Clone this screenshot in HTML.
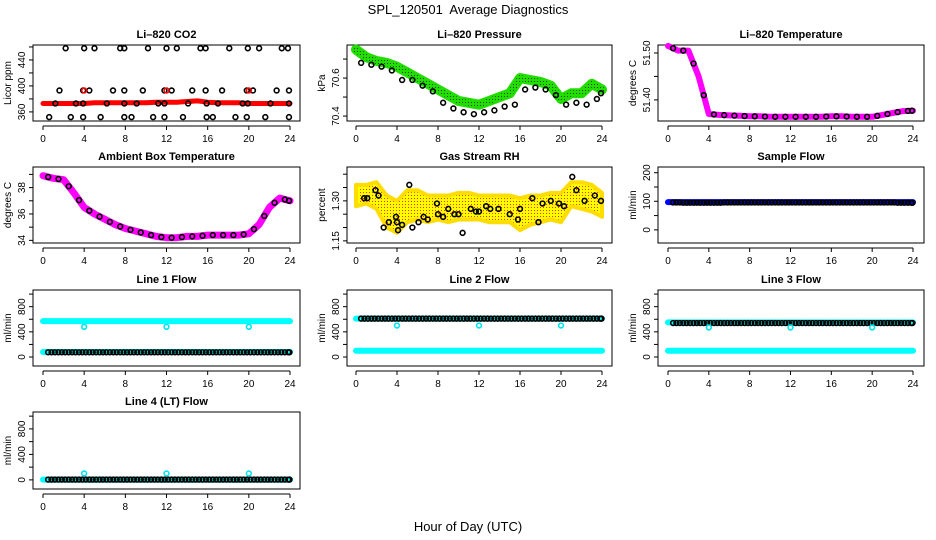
<!DOCTYPE html>
<html><head><meta charset="utf-8">
<style>
html,body{margin:0;padding:0;background:#fff;}
svg{display:block;font-family:"Liberation Sans",Arial,sans-serif;}
</style></head>
<body>
<svg id="c" width="936" height="540" viewBox="0 0 936 540" xmlns="http://www.w3.org/2000/svg">
<defs>
<pattern id="stip" width="3" height="3" patternUnits="userSpaceOnUse"><rect width="3" height="3" fill="#ffff00"/><rect width="1" height="1" fill="#ff3000"/></pattern>
<pattern id="gstip" width="3" height="3" patternUnits="userSpaceOnUse"><rect width="3" height="3" fill="#22dd00"/><rect width="1" height="1" fill="#004400"/></pattern>
</defs>
<text x="468" y="14" font-size="13" text-anchor="middle">SPL_120501&#160; Average Diagnostics</text>
<text x="468" y="531" font-size="13" text-anchor="middle">Hour of Day (UTC)</text>
</svg>
<script>
// ---- data ----
const hours = [0,1,2,3,4,5,6,7,8,9,10,11,12,13,14,15,16,17,18,19,20,21,22,23,24];
const co2Red = [373,373,373,373,373,374,374,374,374,374,374,375,375,375,376,377,375,374,374,374,373,373,373,373,373];
const co2BlackX = [2.2,4,5,7.5,7.9,10.2,12,13,15.3,15.8,18.1,19.9,21,23.2,23.8, 1.6,3.9,4.5,6.8,7.9,9.7,11.8,12.5,14.5,15.8,17.4,19.8,20.4,22.7,23.9, 1.2,3.2,3.9,6.2,7.9,9.1,11.2,11.8,14.1,15.9,17,19.4,19.9,22.1,23.9, 0.6,2.7,3.9,5.6,7.9,8.6,10.7,11.8,13.6,15.9,16.5,18.7,19.8,21.6,23.9];
const co2BlackY = [458,458,458,458,458,458,458,458,458,458,458,458,458,458,458, 393,393,393,393,393,393,393,393,393,393,393,393,393,393,393, 373,373,373,373,373,373,373,373,373,373,373,373,373,373,373, 352,352,352,352,352,352,352,352,352,352,352,352,352,352,352];
const presGreen = [70.75,70.71,70.69,70.68,70.66,70.63,70.60,70.57,70.54,70.51,70.48,70.47,70.46,70.48,70.50,70.52,70.60,70.59,70.58,70.56,70.49,70.52,70.52,70.57,70.54];
const presBlack = [70.68,70.67,70.66,70.64,70.59,70.59,70.56,70.53,70.47,70.44,70.42,70.41,70.42,70.43,70.45,70.46,70.54,70.55,70.54,70.51,70.46,70.47,70.46,70.49,70.52];
const tempMag = [51.515,51.505,51.505,51.45,51.37,51.368,51.367,51.366,51.365,51.365,51.364,51.364,51.364,51.364,51.364,51.364,51.365,51.365,51.364,51.364,51.364,51.368,51.372,51.376,51.377];
const ambMag = [38.9,38.7,38.6,37.6,36.5,36.0,35.6,35.2,34.9,34.7,34.5,34.3,34.2,34.2,34.3,34.3,34.4,34.4,34.4,34.4,34.5,35.2,36.5,37.2,37.0];
const rhHi = [1.36,1.36,1.37,1.32,1.30,1.34,1.34,1.32,1.32,1.32,1.33,1.33,1.32,1.32,1.32,1.32,1.31,1.32,1.32,1.33,1.33,1.37,1.37,1.36,1.33];
const rhLo = [1.28,1.29,1.27,1.20,1.18,1.22,1.23,1.22,1.23,1.22,1.23,1.23,1.23,1.22,1.22,1.22,1.19,1.21,1.22,1.23,1.22,1.28,1.27,1.26,1.24];
const rhBlackX = [0.8,1.1,1.9,2.2,2.7,3.2,3.9,4.0,4.1,4.5,5.2,5.5,6.1,6.6,7.0,7.9,8.0,8.5,9.0,9.6,10.0,10.4,11.2,11.7,12.0,12.7,13.1,13.9,15.0,15.8,16.0,17.2,17.8,18.2,19.0,19.8,20.3,21.1,21.5,22.3,23.3,23.9];
const rhBlackY = [1.31,1.31,1.34,1.32,1.20,1.22,1.24,1.22,1.19,1.21,1.36,1.20,1.22,1.24,1.23,1.29,1.25,1.24,1.27,1.25,1.25,1.18,1.27,1.26,1.26,1.28,1.27,1.27,1.25,1.23,1.27,1.31,1.22,1.29,1.30,1.29,1.28,1.39,1.34,1.30,1.32,1.30];
const sampBlue = [97,97,97,97,97,97,97,97,97,97,97,97,97,97,97,97,97,97,97,97,97,97,97,97,97];
const sampBlack = [96,95,95,95,95,96,96,96,96,96,96,96,96,96,96,96,96,96,96,96,96,96,95,95,95];
const outX = [4,12,20];
const l1Hi = [570,570,570,570,570,570,570,570,570,570,570,570,570,570,570,570,570,570,570,570,570,570,570,570,570];
const l1Lo = [80,80,80,80,80,80,80,80,80,80,80,80,80,80,80,80,80,80,80,80,80,80,80,80,80];
const l1Black = [75,75,75,75,75,75,75,75,75,75,75,75,75,75,75,75,75,75,75,75,75,75,75,75,75];
const l1Out = [480,480,480];
const l2Hi = [610,610,610,610,610,610,610,610,610,610,610,610,610,610,610,610,610,610,610,610,610,610,610,610,610];
const l2Lo = [100,100,100,100,100,100,100,100,100,100,100,100,100,100,100,100,100,100,100,100,100,100,100,100,100];
const l2Black = [610,610,610,610,610,610,610,610,610,610,610,610,610,610,610,610,610,610,610,610,610,610,610,610,610];
const l2Out = [500,500,500];
const l3Hi = [550,550,550,550,550,550,550,550,550,550,550,550,550,550,550,550,550,550,550,550,550,550,550,550,550];
const l3Lo = [100,100,100,100,100,100,100,100,100,100,100,100,100,100,100,100,100,100,100,100,100,100,100,100,100];
const l3Black = [540,540,540,540,540,540,540,540,540,540,540,540,540,540,540,540,540,540,540,540,540,540,540,540,540];
const l3Out = [470,470,470];
const l4Cy = [5,5,5,5,5,5,5,5,5,5,5,5,5,5,5,5,5,5,5,5,5,5,5,5,5];
const l4Black = [5,5,5,5,5,5,5,5,5,5,5,5,5,5,5,5,5,5,5,5,5,5,5,5,5];
const l4Out = [100,100,100];
const xTicks = [0,4,8,12,16,20,24];

// ---- layout ----
const NS = "http://www.w3.org/2000/svg";
const svg = document.getElementById('c');
const colL=[33,347,658], colR=[300,612,924], colX0=[43,356,668], colX24=[290,602,913];
const rowT=[45,167,290,412], rowB=[121,243,366,489];
function mk(tag, attrs, parent){const e=document.createElementNS(NS,tag);for(const k in attrs)e.setAttribute(k,attrs[k]);(parent||svg).appendChild(e);return e;}

function panel(name, title, ylab, col, row, ymin, ymax, minorTicks, labTicks, fmt){
  const g=mk('g',{});
  
  
  const L=colL[col],R=colR[col],T=rowT[row],B=rowB[row];
  const xs=h=>colX0[col]+(colX24[col]-colX0[col])*h/24;
  const ys=v=>B-(v-ymin)/(ymax-ymin)*(B-T);
  const box=mk('rect',{x:L,y:T,width:R-L,height:B-T,fill:'none',stroke:'#000','stroke-width':1},g);
  
  
  const t=mk('text',{x:(L+R)/2,y:T-7,'font-size':11,'font-weight':'bold','text-anchor':'middle'},g);
  t.textContent=title;
  
  
  const ax=mk('g',{},g);
  
  
  const ay0=B+5;
  mk('line',{x1:xs(0),x2:xs(24),y1:ay0,y2:ay0,stroke:'#000'},ax);
  xTicks.forEach(h=>{
    mk('line',{x1:xs(h),x2:xs(h),y1:ay0,y2:ay0+4,stroke:'#000'},ax);
    const lt=mk('text',{x:xs(h),y:ay0+16,'font-size':10,'text-anchor':'middle'},ax);
    lt.textContent=h;
    
    
  });
  const yg=mk('g',{},g);
  
  
  const vis=minorTicks.filter(v=>ys(v)>=T-1&&ys(v)<=B+1);
  mk('line',{x1:L,x2:L,y1:ys(vis[0]),y2:ys(vis[vis.length-1]),stroke:'#000'},yg);
  vis.forEach(v=>mk('line',{x1:L,x2:L-4,y1:ys(v),y2:ys(v),stroke:'#000'},yg));
  labTicks.forEach(v=>{
    const yy=ys(v);
    const lt=mk('text',{x:L-8,y:yy,'font-size':10,'text-anchor':'middle',transform:`rotate(-90 ${L-8} ${yy})`},yg);
    lt.textContent=fmt(v);
    
    
  });
  const yl=mk('text',{x:L-22,y:(T+B)/2,'font-size':10,'text-anchor':'middle',transform:`rotate(-90 ${L-22} ${(T+B)/2})`},g);
  yl.textContent=ylab;
  
  
  return {g,xs,ys};
}
function band(p,xsArr,vals,color,w,name){
  const pts=vals.map((v,i)=>p.xs(xsArr[i]).toFixed(1)+','+p.ys(v).toFixed(1)).join(' ');
  const e=mk('polyline',{points:pts,fill:'none',stroke:color,'stroke-width':w,'stroke-linejoin':'round','stroke-linecap':'round'},p.g);
  
  
}
function pts(p,xsArr,vals,color,name,r){
  vals.forEach((v,i)=>{
    const c=mk('circle',{cx:p.xs(xsArr[i]),cy:p.ys(v),r:r||2.4,fill:'none',stroke:color,'stroke-width':1.6},p.g);
    
    
  });
}
// dense markers: each hourly value plotted at three sub-hour slots
function densePts(p,vals,color,name){
  vals.forEach((v,i)=>{
    if(i>=24) return;
    [0.5,0.83,1.16].forEach(o=>{
      const hx=Math.min(23.95,hours[i]+o);
      const c=mk('circle',{cx:p.xs(hx),cy:p.ys(v),r:2.4,fill:'none',stroke:color,'stroke-width':1.6},p.g);
      
      
    });
  });
}
const blackX=hours.map(h=>Math.min(24,h+0.5)).slice(0,24).concat([23.9]);
const f0=v=>String(v);

let p=panel('co2','Li\u2013820 CO2','Licor ppm',0,0,346,463,[360,380,400,420,440,460],[360,400,440],f0);
band(p,hours,co2Red,'#ff0000',5,'co2-red-series');
pts(p,co2BlackX,co2BlackY,'#000','co2-black-point');
pts(p,[4,12,20],[393,393,393],'#ff0000','co2-red-point');

p=panel('pressure','Li\u2013820 Pressure','kPa',1,0,70.374,70.774,[70.4,70.5,70.6,70.7],[70.4,70.6],v=>v.toFixed(1));
band(p,hours,presGreen,'#22dd00',10,'pressure-green-series');
band(p,hours,presGreen,'url(#gstip)',6,'pressure-green-stipple');
pts(p,blackX,presBlack,'#000','pressure-black-point');

p=panel('li820-temp','Li\u2013820 Temperature','degrees C',2,0,51.355,51.517,[51.40,51.45,51.50],[51.40,51.50],v=>v.toFixed(2));
band(p,hours,tempMag,'#ff00ff',6,'li820-temp-series');
pts(p,blackX,tempMag.map((v,i)=>tempMag[Math.min(24,i+1)]*0.5+v*0.5),'#000','li820-temp-black-point');

p=panel('ambient','Ambient Box Temperature','degrees C',0,1,33.8,39.56,[34,35,36,37,38,39],[34,36,38],f0);
band(p,hours,ambMag,'#ff00ff',7,'ambient-series');
pts(p,blackX,ambMag.map((v,i)=>ambMag[Math.min(24,i+1)]*0.5+v*0.5),'#000','ambient-black-point');

p=panel('rh','Gas Stream RH','percent',1,1,1.142,1.427,[1.15,1.20,1.25,1.30,1.35,1.40],[1.15,1.30],v=>v.toFixed(2));
{
  const poly=hours.map((h,i)=>p.xs(h)+','+p.ys(rhHi[i])).concat(hours.slice().reverse().map((h,j)=>p.xs(h)+','+p.ys(rhLo[24-j]))).join(' ');
  const e=mk('polygon',{points:poly,fill:'url(#stip)',stroke:'#ffdd00','stroke-width':4,'stroke-linejoin':'round'},p.g);
  
  
}
pts(p,rhBlackX,rhBlackY,'#000','rh-black-point');

p=panel('sample-flow','Sample Flow','ml/min',2,1,-46,220,[0,50,100,150,200],[0,100,200],f0);
band(p,hours,sampBlue,'#0000ff',6,'sample-flow-blue-series');
densePts(p,sampBlack,'#000','sample-flow-black-point');

const fT=[0,200,400,600,800,1000];
function flowPanel(name,title,col,row,hi,lo,bl,out){
  const pp=panel(name,title,'ml/min',col,row,-143,1065,fT,[0,400,800],f0);
  if(hi) band(pp,hours,hi,'#00ffff',6,name+'-cyan-high');
  if(lo) band(pp,hours,lo,'#00ffff',6,name+'-cyan-low');
  densePts(pp,bl,'#000',name+'-black-point');
  pts(pp,outX,out,'#00e5ee',name+'-cyan-outlier');
}
flowPanel('line1-flow','Line 1 Flow',0,2,l1Hi,l1Lo,l1Black,l1Out);
flowPanel('line2-flow','Line 2 Flow',1,2,l2Hi,l2Lo,l2Black,l2Out);
flowPanel('line3-flow','Line 3 Flow',2,2,l3Hi,l3Lo,l3Black,l3Out);
flowPanel('line4-flow','Line 4 (LT) Flow',0,3,l4Cy,null,l4Black,l4Out);
</script>
</body></html>
